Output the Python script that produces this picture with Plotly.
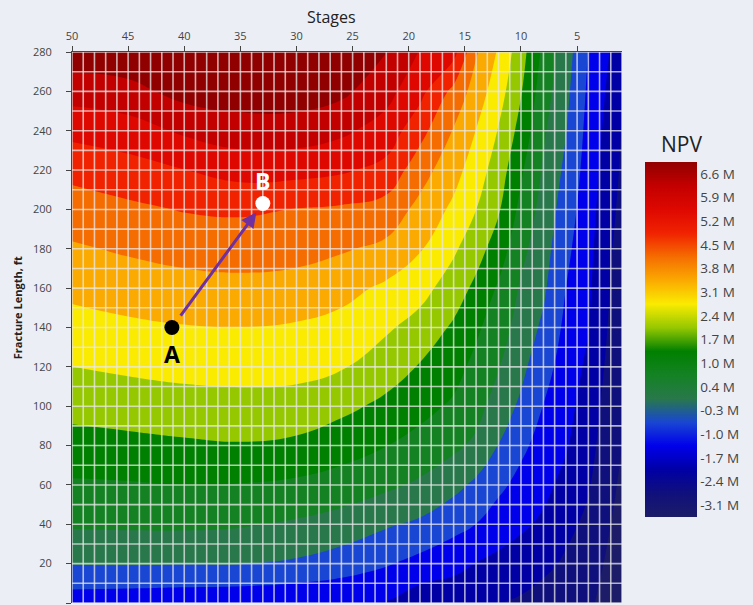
import plotly.graph_objects as go

# ---------------- data ----------------
stages = [1, 2, 4, 6, 8, 10, 12, 14, 16, 19, 22, 26, 30, 35, 40, 45, 50]
lengths = [0, 20, 40, 60, 80, 100, 120, 140, 160, 180, 200, 220, 240, 260, 280]

# NPV (million $) along fracture length, one list per stage count
npv_s01 = [-3.5, -3.4, -3.3, -3.2, -3.1, -3.0, -2.9, -2.82, -2.74, -2.66, -2.58, -2.5, -2.45, -2.38, -2.25]
npv_s02 = [-3.35, -3.22, -3.1, -2.98, -2.85, -2.75, -2.64, -2.53, -2.44, -2.36, -2.26, -2.15, -2.02, -1.9, -1.76]
npv_s04 = [-3.0, -2.85, -2.57, -2.34, -2.17, -2.01, -1.85, -1.7, -1.6, -1.51, -1.42, -1.32, -1.23, -1.14, -1.05]
npv_s06 = [-2.85, -2.52, -2.21, -1.91, -1.65, -1.5, -1.34, -1.18, -1.02, -0.85, -0.66, -0.48, -0.3, -0.15, 0.0]
npv_s08 = [-2.75, -2.21, -1.83, -1.54, -1.29, -1.04, -0.75, -0.45, -0.22, -0.05, 0.11, 0.28, 0.47, 0.68, 0.9]
npv_s10 = [-2.5, -2.05, -1.6, -1.23, -0.87, -0.45, -0.16, 0.06, 0.28, 0.55, 0.87, 1.16, 1.51, 1.8, 2.03]
npv_s12 = [-2.4, -1.9, -1.35, -0.87, -0.35, 0.03, 0.4, 0.71, 0.97, 1.42, 1.82, 2.11, 2.4, 2.75, 3.05]
npv_s14 = [-2.35, -1.73, -1.03, -0.47, 0.22, 0.61, 0.88, 1.17, 1.59, 2.03, 2.45, 2.78, 3.12, 3.51, 3.9]
npv_s16 = [-2.2, -1.49, -0.8, -0.13, 0.51, 0.96, 1.29, 1.65, 2.1, 2.55, 2.99, 3.39, 3.78, 4.33, 5.45]
npv_s19 = [-2.15, -1.23, -0.45, 0.25, 0.83, 1.26, 1.7, 2.18, 2.69, 3.19, 3.63, 4.12, 4.76, 5.43, 5.87]
npv_s22 = [-1.75, -0.96, -0.25, 0.5, 1.07, 1.59, 2.07, 2.54, 3.0, 3.67, 4.24, 5.0, 5.62, 6.14, 6.62]
npv_s26 = [-1.68, -0.65, 0.07, 0.77, 1.35, 1.92, 2.5, 2.9, 3.37, 3.9, 4.42, 5.31, 6.04, 6.76, 7.3]
npv_s30 = [-1.62, -0.43, 0.27, 0.93, 1.6, 2.18, 2.65, 3.06, 3.58, 4.06, 4.5, 5.45, 6.28, 6.95, 7.5]
npv_s35 = [-1.55, -0.31, 0.43, 1.03, 1.7, 2.22, 2.68, 3.13, 3.64, 4.12, 4.62, 5.48, 6.29, 6.95, 7.5]
npv_s40 = [-1.5, -0.3, 0.49, 1.06, 1.64, 2.17, 2.65, 3.1, 3.58, 4.07, 4.56, 5.2, 6.02, 6.85, 7.4]
npv_s45 = [-1.45, -0.28, 0.48, 1.0, 1.56, 2.07, 2.56, 3.01, 3.46, 3.92, 4.38, 4.94, 5.6, 6.37, 7.1]
npv_s50 = [-1.4, -0.3, 0.45, 0.97, 1.48, 1.98, 2.44, 2.88, 3.31, 3.74, 4.2, 4.72, 5.41, 6.21, 7.0]

npv_columns = [npv_s01, npv_s02, npv_s04, npv_s06, npv_s08, npv_s10, npv_s12, npv_s14,
               npv_s16, npv_s19, npv_s22, npv_s26, npv_s30, npv_s35, npv_s40, npv_s45, npv_s50]

# contour levels / colour bar labels
level_start = -3.1
level_end = 6.6
level_count = 15
npv_tick_text = ["-3.1 M", "-2.4 M", "-1.7 M", "-1.0 M", "-0.3 M", "0.4 M", "1.0 M", "1.7 M",
                 "2.4 M", "3.1 M", "3.8 M", "4.5 M", "5.2 M", "5.9 M", "6.6 M"]

stage_ticks = [50, 45, 40, 35, 30, 25, 20, 15, 10, 5]
length_ticks = list(range(0, 281, 20))

# design points A -> B
point_names = ["A", "B"]
point_stages = [41.1, 33.0]
point_lengths = [140, 203]

# ---------------- styling ----------------
band_colors = [
    "rgb(28,28,104)", "rgb(16,16,124)", "rgb(0,0,165)", "rgb(0,0,235)",
    "rgb(25,70,210)", "rgb(40,120,75)", "rgb(20,130,35)", "rgb(0,128,0)",
    "rgb(150,200,0)", "rgb(250,235,0)", "rgb(250,170,0)", "rgb(245,108,0)",
    "rgb(240,34,0)", "rgb(222,8,0)", "rgb(195,0,0)", "rgb(145,0,0)",
]
nb = len(band_colors) - 1
colorscale = [[i / nb, c] for i, c in enumerate(band_colors)]

level_size = (level_end - level_start) / (level_count - 1)
levels = [level_start + i * level_size for i in range(level_count)]

z = [list(row) for row in zip(*npv_columns)]

FONT = "Open Sans, Segoe UI, Arial, sans-serif"

fig = go.Figure()

# heatmap underneath only to provide a continuous colour bar
fig.add_trace(go.Heatmap(
    x=stages, y=lengths, z=z, colorscale=colorscale,
    zmin=level_start - level_size / 2, zmax=level_end + level_size / 2,
    hoverinfo="skip",
    colorbar=dict(
        tickvals=levels, ticktext=npv_tick_text, ticks="",
        tickfont=dict(size=13.5, color="#444", family=FONT),
        thickness=52, len=0.644, lenmode="fraction", y=0.478, yanchor="middle",
        x=1.042, xanchor="left", outlinewidth=0, xpad=0, ypad=0,
    ),
))

fig.add_trace(go.Contour(
    x=stages, y=lengths, z=z, autocontour=False,
    contours=dict(start=level_start, end=level_end, size=level_size,
                  coloring="fill", showlines=False),
    colorscale=colorscale, line=dict(width=0, smoothing=1.3),
    showscale=False, hoverinfo="skip",
))

# grid drawn over the filled contours
gx, gy = [], []
for s in range(1, 51):
    gx += [s, s, None]
    gy += [0, 280, None]
for L in range(0, 281, 10):
    gx += [1, 50, None]
    gy += [L, L, None]
fig.add_trace(go.Scatter(x=gx, y=gy, mode="lines",
                         line=dict(color="rgba(232,232,232,0.75)", width=1.6),
                         hoverinfo="skip", showlegend=False))

fig.add_trace(go.Scatter(
    x=point_stages, y=point_lengths, mode="markers",
    marker=dict(color=["black", "white"], size=15, line=dict(width=0)),
    hoverinfo="skip", showlegend=False,
))

fig.add_annotation(
    x=point_stages[1], y=point_lengths[1], ax=point_stages[0], ay=point_lengths[0],
    xref="x", yref="y", axref="x", ayref="y", text="", showarrow=True,
    arrowhead=2, arrowsize=1, arrowwidth=3, arrowcolor="#7030A0",
    standoff=11, startstandoff=13,
)

label_shift = [-26, 23]
label_color = ["black", "white"]
for name, s, L, dy, col in zip(point_names, point_stages, point_lengths, label_shift, label_color):
    fig.add_annotation(x=s, y=L, xref="x", yref="y", text="<b>%s</b>" % name,
                       showarrow=False, yshift=dy, xanchor="center", yanchor="middle",
                       font=dict(size=23, color=col, family=FONT))

fig.add_annotation(text="Stages", x=0.471, y=1.0, xref="paper", yref="paper",
                   yshift=22, showarrow=False, xanchor="center", yanchor="bottom",
                   font=dict(size=16, color="#222", family=FONT))
fig.add_annotation(text="<b>Fracture Length, ft</b>", x=0, y=0.535, xref="paper", yref="paper",
                   xshift=-55, showarrow=False, textangle=-90, xanchor="center",
                   yanchor="middle", font=dict(size=11, color="#222", family=FONT))
fig.add_annotation(text="NPV", x=1.109, y=0.833, xref="paper", yref="paper",
                   showarrow=False, xanchor="center", yanchor="middle",
                   font=dict(size=21, color="#222", family=FONT))

fig.update_layout(
    width=753, height=605,
    margin=dict(l=72, r=131, t=52, b=2, pad=0),
    paper_bgcolor="#EBEFF5", plot_bgcolor="#EBEFF5",
    showlegend=False,
    font=dict(family=FONT, color="#444"),
    xaxis=dict(range=[50, 1], side="top", tickvals=stage_ticks, ticks="outside",
               ticklen=5, tickcolor="#444", showline=True, linecolor="#444",
               linewidth=1, showgrid=False, zeroline=False,
               tickfont=dict(size=11, color="#444"), ticklabelstandoff=2),
    yaxis=dict(range=[0, 280], tickvals=length_ticks, ticks="outside", ticklen=5,
               tickcolor="#444", showline=True, linecolor="#444", linewidth=1,
               showgrid=False, zeroline=False,
               tickfont=dict(size=11, color="#444"), ticklabelstandoff=12),
)

fig.write_html("out.html", config={"displayModeBar": False},
               post_script="document.body.style.margin='0px';")
